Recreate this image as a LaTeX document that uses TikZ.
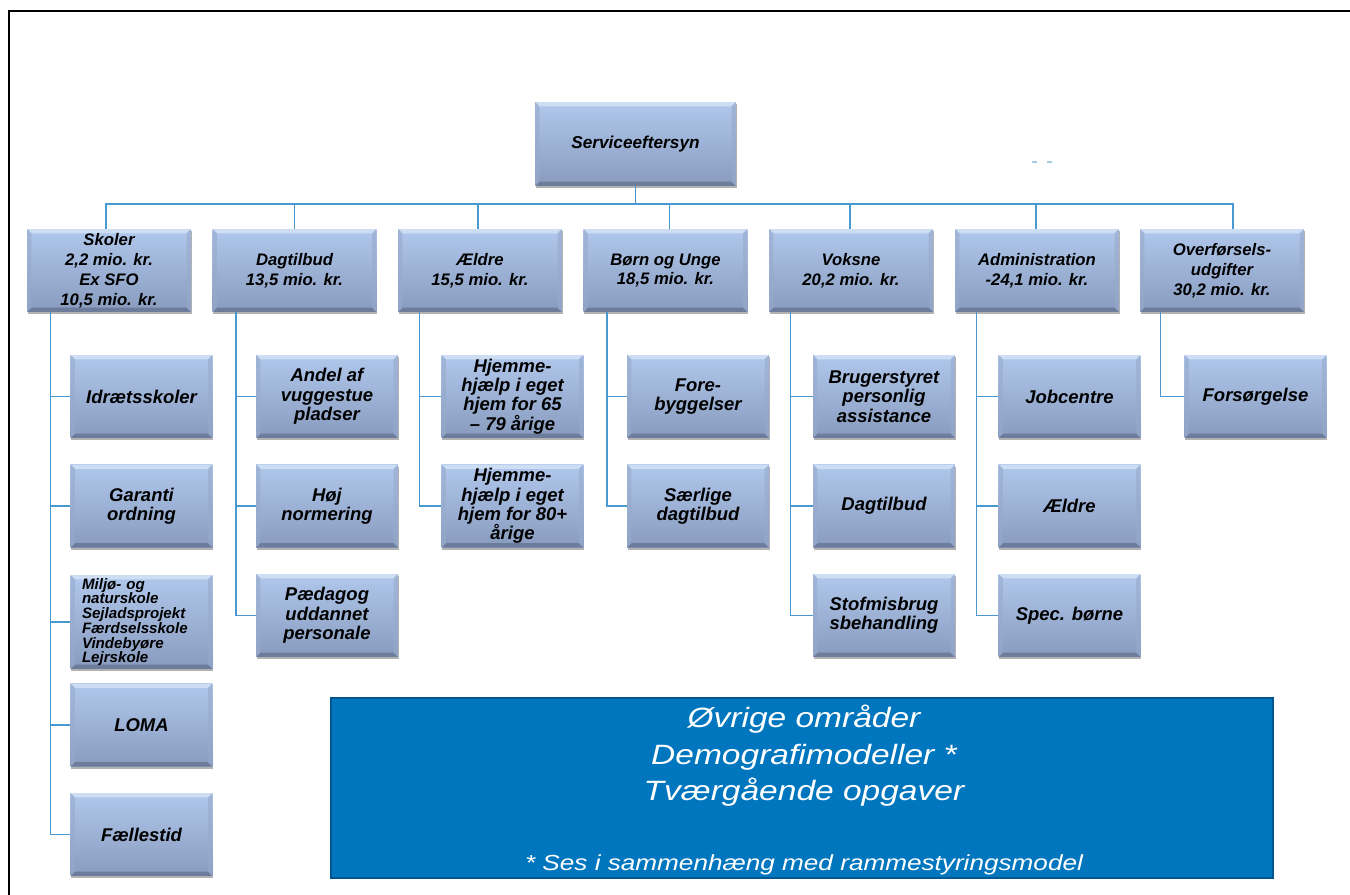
\documentclass[tikz,border=0pt]{standalone}
\usepackage{fontspec}
\setmainfont{Liberation Sans}
\newfontfamily\widesans[FakeStretch=1.2]{Liberation Sans}
\usetikzlibrary{shadows}
\definecolor{linkblue}{RGB}{72,152,210}
\definecolor{boxtop}{RGB}{176,200,236}
\definecolor{boxbot}{RGB}{136,155,190}
\definecolor{boxhi}{RGB}{204,221,244}
\definecolor{boxlo}{RGB}{108,124,154}
\definecolor{boxside}{RGB}{150,170,204}
\definecolor{restblue}{RGB}{0,118,190}
\definecolor{restedge}{RGB}{0,86,142}
\tikzset{
  bevel/.style={path picture={
      \fill[boxhi] (path picture bounding box.north west) -- (path picture bounding box.north east)
        -- ([xshift=-2.5pt,yshift=-2.5pt]path picture bounding box.north east)
        -- ([xshift=2.5pt,yshift=-2.5pt]path picture bounding box.north west) -- cycle;
      \fill[boxlo] (path picture bounding box.south west) -- (path picture bounding box.south east)
        -- ([xshift=-2.5pt,yshift=2.5pt]path picture bounding box.south east)
        -- ([xshift=2.5pt,yshift=2.5pt]path picture bounding box.south west) -- cycle;
      \fill[boxside, opacity=0.6] (path picture bounding box.north west)
        -- ([xshift=2.5pt,yshift=-2.5pt]path picture bounding box.north west)
        -- ([xshift=2.5pt,yshift=2.5pt]path picture bounding box.south west)
        -- (path picture bounding box.south west) -- cycle;
      \fill[boxside, opacity=0.6] (path picture bounding box.north east)
        -- ([xshift=-2.5pt,yshift=-2.5pt]path picture bounding box.north east)
        -- ([xshift=-2.5pt,yshift=2.5pt]path picture bounding box.south east)
        -- (path picture bounding box.south east) -- cycle;
    }},
  box/.style={top color=boxtop, bottom color=boxbot, bevel, inner sep=1pt, align=center,
    drop shadow={shadow xshift=0.5pt, shadow yshift=-1.2pt, fill=black, opacity=0.3},
    minimum width=2.84cm, minimum height=1.66cm,
    font=\bfseries\itshape\fontsize{10.5}{11}\selectfont},
  head/.style={box, minimum width=3.28cm, font=\bfseries\itshape\fontsize{9.5}{11.3}\selectfont},
  top/.style={box, minimum width=4.02cm, minimum height=1.68cm, font=\bfseries\itshape\fontsize{9.8}{11.3}\selectfont},
  smallbox/.style={box, minimum height=1.88cm, align=left, text width=2.38cm, inner xsep=0.23cm, inner ysep=0pt,
    font=\bfseries\itshape\fontsize{8.6}{8.4}\selectfont},
  link/.style={draw=linkblue, line width=0.9pt},
  restbox/.style={fill=restblue, draw=restedge, line width=1.3pt, minimum width=18.84cm, minimum height=3.6cm, inner sep=0pt},
  resttext/.style={text=white, align=center, inner sep=0pt, font=\widesans\itshape\fontsize{15.9}{20.7}\selectfont},
  restnote/.style={text=white, inner sep=0pt, font=\widesans\itshape\fontsize{12.4}{14}\selectfont}
}
\begin{document}
\begin{tikzpicture}[x=0.02cm, y=-0.02cm]
  \useasboundingbox (0,0) rectangle (1350,895);
  \draw[line width=1pt] (1350,11) -- (9,11) -- (9,895);
  \draw[link, line width=0.6pt, opacity=0.5] (1032,162) -- (1037,162) (1047,162) -- (1052,162);

  \node[top] at (635.5,144) (root) {Serviceeftersyn};

  \node[head] at (109,270.5)    (skoler)    {Skoler\\2,2 mio. kr.\\Ex SFO\\10,5 mio. kr.};
  \node[head] at (294.5,270.5)  (dagtilbud) {Dagtilbud\\13,5 mio. kr.};
  \node[head] at (480,270.5)    (aeldre)    {Ældre\\15,5 mio. kr.};
  \node[head] at (665.5,270.5)  (boernunge) {Børn og Unge\\18,5 mio. kr.};
  \node[head] at (851,270.5)    (voksne)    {Voksne\\20,2 mio. kr.};
  \node[head] at (1037,270.5)   (admin)     {Administration\\-24,1 mio. kr.};
  \node[head] at (1222,270.5)   (overf)     {Overførsels-\\udgifter\\30,2 mio. kr.};

  \node[box]      at (141.5,396.5) (idraet)   {Idrætsskoler};
  \node[box]      at (141.5,506)   (garanti)  {Garanti\\ordning};
  \node[smallbox] at (141.5,622)   (miljoe)   {Miljø- og\\naturskole\\Sejladsprojekt\\Færdselsskole\\Vindebyøre\\Lejrskole};
  \node[box]      at (141.5,725)   (loma)     {LOMA};
  \node[box]      at (141.5,834.5) (faelles)  {Fællestid};

  \node[box] at (327,396.5) (andel)    {Andel af\\vuggestue\\pladser};
  \node[box] at (327,506)   (hoej)     {Høj\\normering};
  \node[box] at (327,615.5) (paedagog) {Pædagog\\uddannet\\personale};

  \node[box] at (512.5,396.5) (hjemA) {Hjemme-\\hjælp i eget\\hjem for 65\\– 79 årige};
  \node[box] at (512.5,506)   (hjemB) {Hjemme-\\hjælp i eget\\hjem for 80+\\årige};

  \node[box] at (698,396.5) (fore)     {Fore-\\byggelser};
  \node[box] at (698,506)   (saerlige) {Særlige\\dagtilbud};

  \node[box] at (884,396.5) (bruger) {Brugerstyret\\personlig\\assistance};
  \node[box] at (884,506)   (vdag)   {Dagtilbud};
  \node[box] at (884,615.5) (stof)   {Stofmisbrug\\sbehandling};

  \node[box] at (1069.5,396.5) (job)    {Jobcentre};
  \node[box] at (1069.5,506)   (aaeldre) {Ældre};
  \node[box] at (1069.5,615.5) (spec)   {Spec. børne};

  \node[box] at (1255.5,396.5) (forsoerg) {Forsørgelse};

  \coordinate (bus) at (635.5,204);
  \draw[link] (root) -- (bus);
  \foreach \n/\d in {skoler/-3,dagtilbud/0,aeldre/-2,boernunge/4,voksne/-1,admin/-1,overf/11}
    \draw[link] (bus) -| ([xshift=\d*0.02cm]\n.north);

  \foreach \c in {idraet,garanti,miljoe,loma,faelles}
    \draw[link] ([xshift=0.48cm]skoler.south west) |- (\c);
  \foreach \c in {andel,hoej,paedagog}
    \draw[link] ([xshift=0.48cm]dagtilbud.south west) |- (\c);
  \foreach \c in {hjemA,hjemB}
    \draw[link] ([xshift=0.44cm]aeldre.south west) |- (\c);
  \foreach \c in {fore,saerlige}
    \draw[link] ([xshift=0.48cm]boernunge.south west) |- (\c);
  \foreach \c in {bruger,vdag,stof}
    \draw[link] ([xshift=0.44cm]voksne.south west) |- (\c);
  \foreach \c in {job,aaeldre,spec}
    \draw[link] ([xshift=0.44cm]admin.south west) |- (\c);
  \draw[link] ([xshift=0.42cm]overf.south west) |- (forsoerg);

  \node[restbox] at (802,788) (rest) {};
  \node[resttext] at (804,756) (resttitle) {Øvrige områder\\Demografimodeller *\\Tværgående opgaver};
  \node[restnote, anchor=base] at (804,870) (restnote) {* Ses i sammenhæng med rammestyringsmodel};
\end{tikzpicture}
\end{document}
